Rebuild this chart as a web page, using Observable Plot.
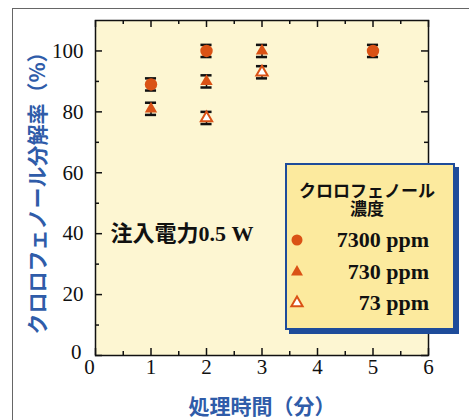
<!DOCTYPE html>
<html><head><meta charset="utf-8">
<script src="https://cdn.jsdelivr.net/npm/d3@7"></script>
<script src="https://cdn.jsdelivr.net/npm/@observablehq/plot@0.6"></script>
<style>
body{margin:0;background:#fff;}
#wrap{position:relative;width:469px;height:420px;overflow:hidden;background:#fff;}
#wrap svg{position:absolute;left:0;top:0;}
#frame{position:absolute;left:12px;top:8px;width:470px;height:420px;border-left:1.5px solid #666;border-top:1.5px solid #666;}
#legend{position:absolute;left:285px;top:163px;width:166px;height:163px;background:#FCEA9E;border:2px solid #1E4C9A;box-shadow:4px 4px 0 #1E4C9A;}
.lt{position:absolute;left:-3px;top:16px;width:166px;text-align:center;font-family:"Noto Sans CJK JP";font-weight:bold;font-size:17px;line-height:18px;color:#111;}
.lr{position:absolute;right:24px;font-family:"Liberation Serif";font-weight:bold;font-size:22px;line-height:22px;color:#111;}
.ls{position:absolute;left:12px;}
</style></head><body><div id="wrap"><div id="frame"></div></div>
<script>
// Data
const t7300 = [1, 2, 5];
const v7300 = [89, 100, 100];
const t730 = [1, 2, 3];
const v730 = [81, 90, 100];
const t73 = [2, 3];
const v73 = [78, 93];
const errBar = 2;
const seriesNames = ["7300 ppm", "730 ppm", "73 ppm"];
const xMajor = [0, 1, 2, 3, 4, 5, 6];
const xMinor = [0.5, 1.5, 2.5, 3.5, 4.5, 5.5];
const yMajor = [0, 20, 40, 60, 80, 100];
const yMinor = [10, 30, 50, 70, 90];
const xTitle = "処理時間（分）";
const yTitle = "クロロフェノール分解率（%）";
const noteText = "注入電力0.5 W";
const noteX = [0.27];
const noteY = [40];
const legendTitle = ["クロロフェノール", "濃度"];

const orange = "#DA5215";
const blue = "#2F5CA9";
const W = 469, H = 420, mL = 95, mR = 41, mT = 20, mB = 65;
const ph = H - mT - mB, pw = W - mL - mR;
const major = 7, minor = 4;

const mk = (ts, vs, s) => ts.map((t, i) => ({t, v: vs[i], s}));
const pts = [...mk(t7300, v7300, seriesNames[0]), ...mk(t730, v730, seriesNames[1]), ...mk(t73, v73, seriesNames[2])];
const capHalf = 0.1;
const tickStyle = {stroke: "#111", strokeWidth: 1.5};
const lab = {fontSize: 21, fontFamily: "Liberation Serif", fill: "#111"};

const chart = Plot.plot({
  width: W, height: H, marginLeft: mL, marginRight: mR, marginTop: mT, marginBottom: mB,
  x: {domain: [0, 6]}, y: {domain: [0, 110]},
  style: {background: "transparent", overflow: "visible"},
  marks: [
    Plot.frame({fill: "#FDF6D2"}),
    // inward ticks, bottom & top
    Plot.tickX(xMajor, {x: d => d, insetTop: ph - major, ...tickStyle}),
    Plot.tickX(xMajor, {x: d => d, insetBottom: ph - major, ...tickStyle}),
    Plot.tickX(xMinor, {x: d => d, insetTop: ph - minor, ...tickStyle}),
    Plot.tickX(xMinor, {x: d => d, insetBottom: ph - minor, ...tickStyle}),
    // inward ticks, left & right
    Plot.tickY(yMajor, {y: d => d, insetRight: pw - major, ...tickStyle}),
    Plot.tickY(yMajor, {y: d => d, insetLeft: pw - major, ...tickStyle}),
    Plot.tickY(yMinor, {y: d => d, insetRight: pw - minor, ...tickStyle}),
    Plot.tickY(yMinor, {y: d => d, insetLeft: pw - minor, ...tickStyle}),
    Plot.frame({stroke: "#111", strokeWidth: 1.5}),
    Plot.axisX(xMajor.filter(d => d !== 0), {tickSize: 0, tickPadding: 4, label: null, ...lab}),
    Plot.axisX([0], {tickSize: 0, tickPadding: 4, label: null, dx: -6, ...lab}),
    Plot.axisY(yMajor.filter(d => d !== 0), {tickSize: 0, tickPadding: 12, label: null, ...lab}),
    Plot.axisY([0], {tickSize: 0, tickPadding: 14, label: null, dy: -3, ...lab}),
    // axis titles
    Plot.text([xTitle], {text: d => d, frameAnchor: "bottom", dy: 52, lineAnchor: "middle", textAnchor: "middle", fontSize: 21, fontWeight: "bold", fontFamily: "Noto Sans CJK JP", fill: blue}),
    Plot.text([yTitle], {text: d => d, frameAnchor: "left", rotate: -90, dx: -57, textAnchor: "middle", lineAnchor: "middle", fontSize: 21, fontWeight: "bold", fontFamily: "Noto Sans CJK JP", fill: blue}),
    // annotation
    Plot.text([noteText], {x: () => noteX[0], y: () => noteY[0], text: d => d, textAnchor: "start", fontSize: 22, fontWeight: "bold", fontFamily: "Liberation Serif, Noto Sans CJK JP", fill: "#111"}),
    // error bars
    Plot.ruleX(pts, {x: "t", y1: d => d.v - errBar, y2: d => d.v + errBar, stroke: "#111", strokeWidth: 1.5}),
    Plot.ruleY(pts, {y: d => d.v - errBar, x1: d => d.t - capHalf, x2: d => d.t + capHalf, stroke: "#111", strokeWidth: 2.5}),
    Plot.ruleY(pts, {y: d => d.v + errBar, x1: d => d.t - capHalf, x2: d => d.t + capHalf, stroke: "#111", strokeWidth: 2.5}),
    // markers
    Plot.dot(pts.filter(d => d.s === seriesNames[0]), {x: "t", y: "v", r: 6.2, symbol: "circle", fill: orange}),
    Plot.dot(pts.filter(d => d.s === seriesNames[1]), {x: "t", y: "v", r: 4.6, symbol: "triangle", fill: orange}),
    Plot.dot(pts.filter(d => d.s === seriesNames[2]), {x: "t", y: "v", r: 4.2, symbol: "triangle", fill: "#fff", stroke: orange, strokeWidth: 2})
  ]
});
const wrap = document.getElementById("wrap");
wrap.appendChild(chart);

// legend
const lg = document.createElement("div");
lg.id = "legend";
const title = document.createElement("div");
title.className = "lt";
legendTitle.forEach((t, i) => {
  if (i > 0) title.appendChild(document.createElement("br"));
  title.appendChild(document.createTextNode(t));
});
lg.appendChild(title);
const symDefs = [
  {sym: d3.symbolCircle, size: 95, fill: orange, stroke: "none"},
  {sym: d3.symbolTriangle, size: 62, fill: orange, stroke: "none"},
  {sym: d3.symbolTriangle, size: 55, fill: "#fff", stroke: orange}
];
const rowY = [75, 107, 138];
seriesNames.forEach((n, i) => {
  const t = document.createElement("div");
  t.className = "lr"; t.textContent = n;
  t.style.top = (rowY[i] - 11) + "px";
  lg.appendChild(t);
  const s = d3.create("svg").attr("width", 20).attr("height", 20).attr("class", "ls")
    .style("top", (rowY[i] - 10) + "px");
  s.append("path").attr("transform", "translate(10,10)")
    .attr("d", d3.symbol(symDefs[i].sym, symDefs[i].size)())
    .attr("fill", symDefs[i].fill).attr("stroke", symDefs[i].stroke).attr("stroke-width", 2);
  lg.appendChild(s.node());
});
wrap.appendChild(lg);
</script>
</body></html>
